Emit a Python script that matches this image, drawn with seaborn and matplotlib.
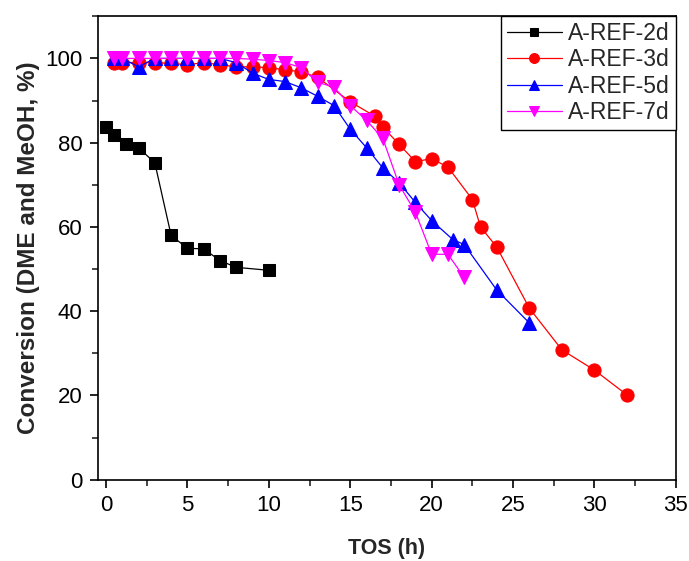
import numpy as np
import pandas as pd
import matplotlib
matplotlib.use("Agg")
import matplotlib.pyplot as plt
from matplotlib.ticker import MultipleLocator
import seaborn as sns

sns.set_theme(style="ticks")
plt.rcParams['font.family'] = ['Liberation Sans', 'DejaVu Sans']

# ----------------- data ----------------- #
tos_2d = [0, 0.5, 1.25, 2, 3, 4, 5, 6, 7, 8, 10]
conv_2d = [83.8, 81.7, 79.7, 78.8, 75.2, 58.0, 54.9, 54.8, 52.0, 50.4, 49.7]

tos_3d = [0.5, 1, 2, 3, 4, 5, 6, 7, 8, 9, 10, 11, 12, 13, 15, 16.5, 17, 18,
          19, 20, 21, 22.5, 23, 24, 26, 28, 30, 32]
conv_3d = [99.0, 99.0, 99.0, 99.0, 98.8, 98.5, 99.0, 98.5, 98.0, 98.0, 97.8,
           97.3, 96.8, 95.5, 89.7, 86.3, 83.7, 79.6, 75.5, 76.2, 74.2, 66.5,
           60.0, 55.2, 40.7, 30.8, 26.0, 20.1]

tos_5d = [0.5, 1, 2, 3, 4, 5, 6, 7, 8, 9, 10, 11, 12, 13, 14, 15, 16, 17, 18,
          19, 20, 21.3, 22, 24, 26]
conv_5d = [100, 100, 98, 100, 100, 100, 100, 100, 99, 96.5, 95, 94.5, 93, 91,
           88.8, 83.2, 78.8, 74, 70.5, 65.8, 61.5, 57, 55.8, 45, 37.2]

tos_7d = [0.5, 1, 2, 3, 4, 5, 6, 7, 8, 9, 10, 11, 12, 13, 14, 15, 16, 17, 18,
          19, 20, 21, 22]
conv_7d = [100, 100, 100, 100, 100, 100, 100, 100, 100, 99.8, 99.5, 99, 97.8,
           94.3, 93.2, 88.8, 85.3, 81, 70, 63.5, 53.5, 53.5, 48]

series = [
    ("A-REF-2d", tos_2d, conv_2d, "black", "s", 8.5),
    ("A-REF-3d", tos_3d, conv_3d, "red", "o", 9.5),
    ("A-REF-5d", tos_5d, conv_5d, "blue", "^", 10),
    ("A-REF-7d", tos_7d, conv_7d, "magenta", "v", 10),
]

fig = plt.figure(figsize=(6.89, 5.61), dpi=100)
ax = fig.add_axes([0.142, 0.145, 0.839, 0.826])

for name, x, y, col, mk, ms in series:
    df = pd.DataFrame({"TOS": x, "conv": y})
    sns.lineplot(data=df, x="TOS", y="conv", ax=ax, color=col, marker=mk,
                 markersize=ms, markeredgecolor=col, linewidth=0.9, label=name)

ax.set_xlim(-0.5, 35)
ax.set_ylim(0, 110)
ax.xaxis.set_major_locator(MultipleLocator(5))
ax.xaxis.set_minor_locator(MultipleLocator(2.5))
ax.yaxis.set_major_locator(MultipleLocator(20))
ax.yaxis.set_minor_locator(MultipleLocator(10))
ax.tick_params(which='major', direction='out', length=6, width=1.2,
               labelsize=16, colors='black', pad=5)
ax.tick_params(which='minor', direction='out', length=4, width=1.2)
for sp in ax.spines.values():
    sp.set_visible(True)
    sp.set_linewidth(1.2)
    sp.set_color('black')

ax.set_xlabel("TOS (h)", fontsize=15.5, fontweight='bold', labelpad=16)
ax.set_ylabel("Conversion (DME and MeOH, %)", fontsize=17.5, fontweight='bold',
              labelpad=4)

leg = ax.legend(loc='upper right', fontsize=16.5, frameon=True, fancybox=False,
                edgecolor='black', borderaxespad=0, markerscale=0.75,
                handlelength=2.4, handletextpad=0.3, labelspacing=0.15,
                borderpad=0.25)
leg.get_frame().set_linewidth(1.0)
leg.get_frame().set_alpha(1)

plt.savefig("out.png", dpi=100)
